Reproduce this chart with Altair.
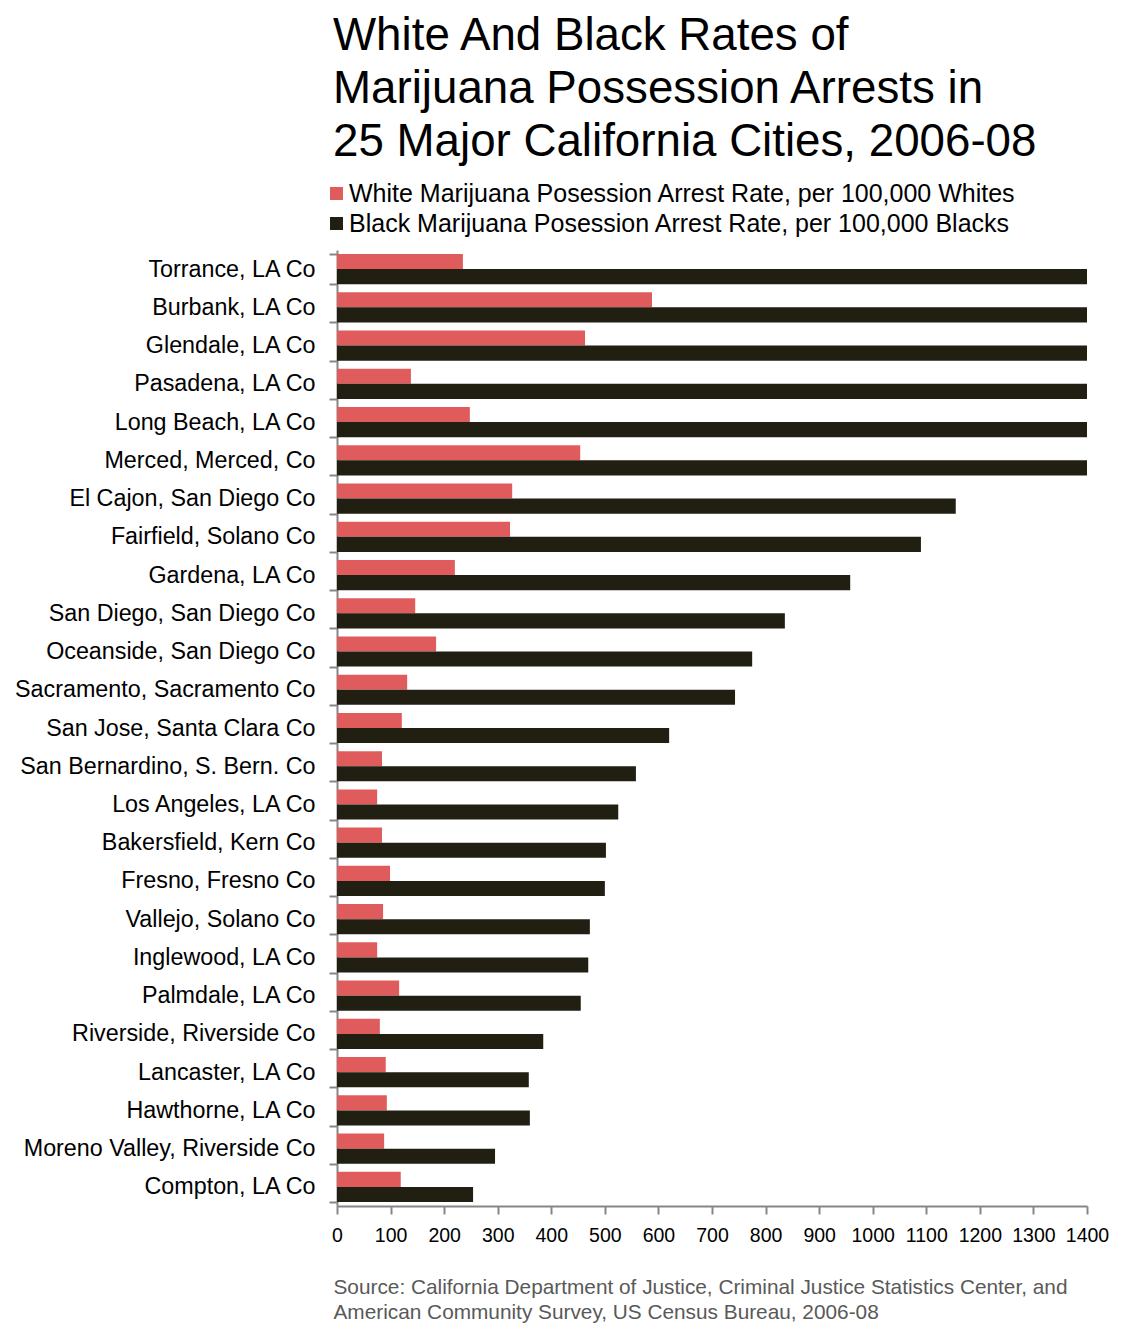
import altair as alt
import pandas as pd

cities = [
    "Torrance, LA Co", "Burbank, LA Co", "Glendale, LA Co", "Pasadena, LA Co",
    "Long Beach, LA Co", "Merced, Merced, Co", "El Cajon, San Diego Co",
    "Fairfield, Solano Co", "Gardena, LA Co", "San Diego, San Diego Co",
    "Oceanside, San Diego Co", "Sacramento, Sacramento Co", "San Jose, Santa Clara Co",
    "San Bernardino, S. Bern. Co", "Los Angeles, LA Co", "Bakersfield, Kern Co",
    "Fresno, Fresno Co", "Vallejo, Solano Co", "Inglewood, LA Co", "Palmdale, LA Co",
    "Riverside, Riverside Co", "Lancaster, LA Co", "Hawthorne, LA Co",
    "Moreno Valley, Riverside Co", "Compton, LA Co",
]
white_rate = [235, 588, 463, 138, 248, 454, 327, 323, 220, 146, 185, 131, 121,
              84, 75, 84, 99, 86, 75, 116, 80, 91, 93, 88, 119]
black_rate = [1400, 1400, 1400, 1400, 1400, 1400, 1155, 1090, 958, 836, 775, 743, 620,
              558, 525, 502, 500, 472, 469, 455, 385, 358, 360, 295, 254]

s_white = "White Marijuana Posession Arrest Rate, per 100,000 Whites"
s_black = "Black Marijuana Posession Arrest Rate, per 100,000 Blacks"
x_ticks = list(range(0, 1401, 100))

rows = []
for c, w, b in zip(cities, white_rate, black_rate):
    rows.append({"city": c, "series": s_white, "value": w})
    rows.append({"city": c, "series": s_black, "value": b})
df = pd.DataFrame(rows)

FONT = "Liberation Sans"

chart = alt.Chart(df).mark_bar(clip=True).encode(
    y=alt.Y("city:N", sort=cities,
            scale=alt.Scale(paddingInner=0.21, paddingOuter=0.105),
            axis=alt.Axis(title=None, labelFont=FONT, labelFontSize=23.3, labelColor="#000000",
                          labelPadding=14, labelLimit=500, tickBand="extent",
                          tickSize=8, tickWidth=2, tickColor="#868686",
                          domainColor="#868686", domainWidth=2)),
    yOffset=alt.YOffset("series:N", sort=[s_white, s_black],
                        scale=alt.Scale(paddingInner=0, paddingOuter=0)),
    x=alt.X("value:Q", scale=alt.Scale(domain=[0, 1400], nice=False),
            axis=alt.Axis(values=x_ticks, format="d", grid=False, labelFont=FONT,
                          labelFontSize=19.5, labelColor="#000000", labelPadding=12,
                          labelFlush=False, labelOverlap=False,
                          tickSize=8, tickWidth=2, tickColor="#868686",
                          domainColor="#868686", domainWidth=2,
                          title=["Source:  California Department of Justice, Criminal Justice Statistics Center, and",
                                 "American Community Survey, US Census Bureau, 2006-08"],
                          titleFont=FONT, titleFontSize=20.8, titleFontWeight="normal",
                          titleColor="#595959", titleAnchor="start", titleAlign="left",
                          titleBaseline="top", titleX=-4, titleY=71, titleLineHeight=25)),
    color=alt.Color("series:N", sort=[s_white, s_black],
                    scale=alt.Scale(domain=[s_white, s_black], range=["#E05C5C", "#211E12"]),
                    legend=alt.Legend(title=None, orient="none", legendX=-13, legendY=-69,
                                      direction="vertical", symbolType="square", symbolSize=170,
                                      symbolStrokeWidth=0, labelFont=FONT, labelFontSize=25,
                                      labelColor="#000000", labelLimit=1000, rowPadding=4,
                                      labelOffset=0)),
).properties(
    width=750,
    height=956,
    title=alt.TitleParams(
        text=["White And Black Rates of", "Marijuana Possession Arrests in",
              "25 Major California Cities, 2006-08"],
        anchor="start", frame="group", font=FONT, fontSize=45.7, fontWeight="normal",
        color="#000000", lineHeight=53, offset=15, dx=-4),
    autosize=alt.AutoSizeParams(type="none"),
    padding={"left": 329, "top": 242, "right": 52, "bottom": 118},
).configure_view(stroke=None)

chart.save("out.html", embed_options={"renderer": "svg", "actions": False})
